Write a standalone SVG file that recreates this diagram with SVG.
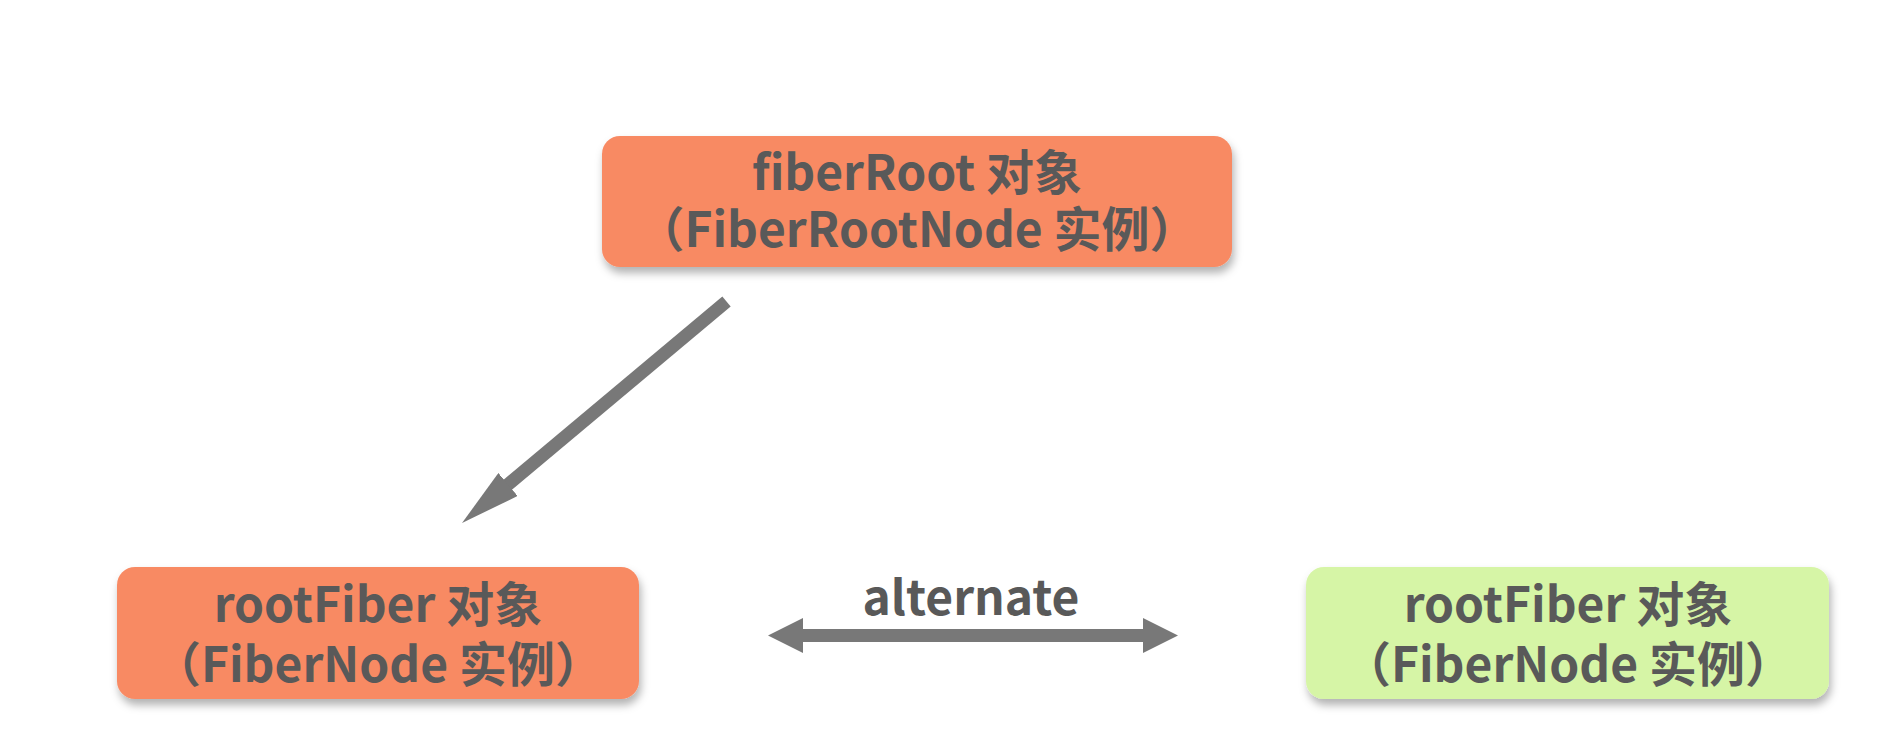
<svg xmlns="http://www.w3.org/2000/svg" width="1902" height="751" viewBox="0 0 1902 751">
  <style>
    .box-o { fill: #F88A64; }
    .box-g { fill: #D6F5A6; }
    .lbl { font-family: "Noto Sans CJK SC", "Noto Sans", sans-serif; font-weight: bold; font-size: 48px; fill: #595959; text-anchor: middle; }
    .edge-lbl { font-family: "Noto Sans CJK SC", "Noto Sans", sans-serif; font-weight: bold; font-size: 48px; fill: #595959; text-anchor: middle; }
    .conn { stroke: #787878; stroke-width: 13; fill: none; stroke-linecap: butt; }
  </style>
  <defs>
    <filter id="shadow" x="-10%" y="-20%" width="120%" height="150%">
      <feDropShadow dx="2" dy="6" stdDeviation="4" flood-color="#000" flood-opacity="0.3"/>
    </filter>
    <marker id="headD" viewBox="0 0 60 30" markerWidth="60" markerHeight="30" refX="5" refY="15" orient="auto" markerUnits="userSpaceOnUse">
      <path d="M0,0 L60,15 L0,30 Z" fill="#787878"/>
    </marker>
    <marker id="headH" viewBox="0 0 35 35" markerWidth="35" markerHeight="35" refX="5" refY="17.5" orient="auto-start-reverse" markerUnits="userSpaceOnUse">
      <path d="M0,0 L35,17.5 L0,35 Z" fill="#787878"/>
    </marker>
  </defs>
  <rect width="1902" height="751" fill="#ffffff"/>

  <g id="connectors">
    <line class="conn" x1="726.5" y1="301.5" x2="504.2" y2="487.7" marker-end="url(#headD)"/>
    <line class="conn" x1="798" y1="635.5" x2="1148" y2="635.5" marker-start="url(#headH)" marker-end="url(#headH)"/>
    <text class="edge-lbl" x="971" y="615">alternate</text>
  </g>

  <g id="fiberRoot">
    <rect class="box-o" x="602" y="136" width="630" height="131" rx="18" filter="url(#shadow)"/>
    <text class="lbl"><tspan x="917" y="190">fiberRoot 对象</tspan><tspan x="917" y="247">（FiberRootNode 实例）</tspan></text>
  </g>

  <g id="rootFiber-current">
    <rect class="box-o" x="117" y="567" width="522" height="132" rx="18" filter="url(#shadow)"/>
    <text class="lbl"><tspan x="378" y="622">rootFiber 对象</tspan><tspan x="378" y="682">（FiberNode 实例）</tspan></text>
  </g>

  <g id="rootFiber-alternate">
    <rect class="box-g" x="1306" y="567" width="523" height="132" rx="18" filter="url(#shadow)"/>
    <text class="lbl"><tspan x="1568" y="622">rootFiber 对象</tspan><tspan x="1568" y="682">（FiberNode 实例）</tspan></text>
  </g>
</svg>
